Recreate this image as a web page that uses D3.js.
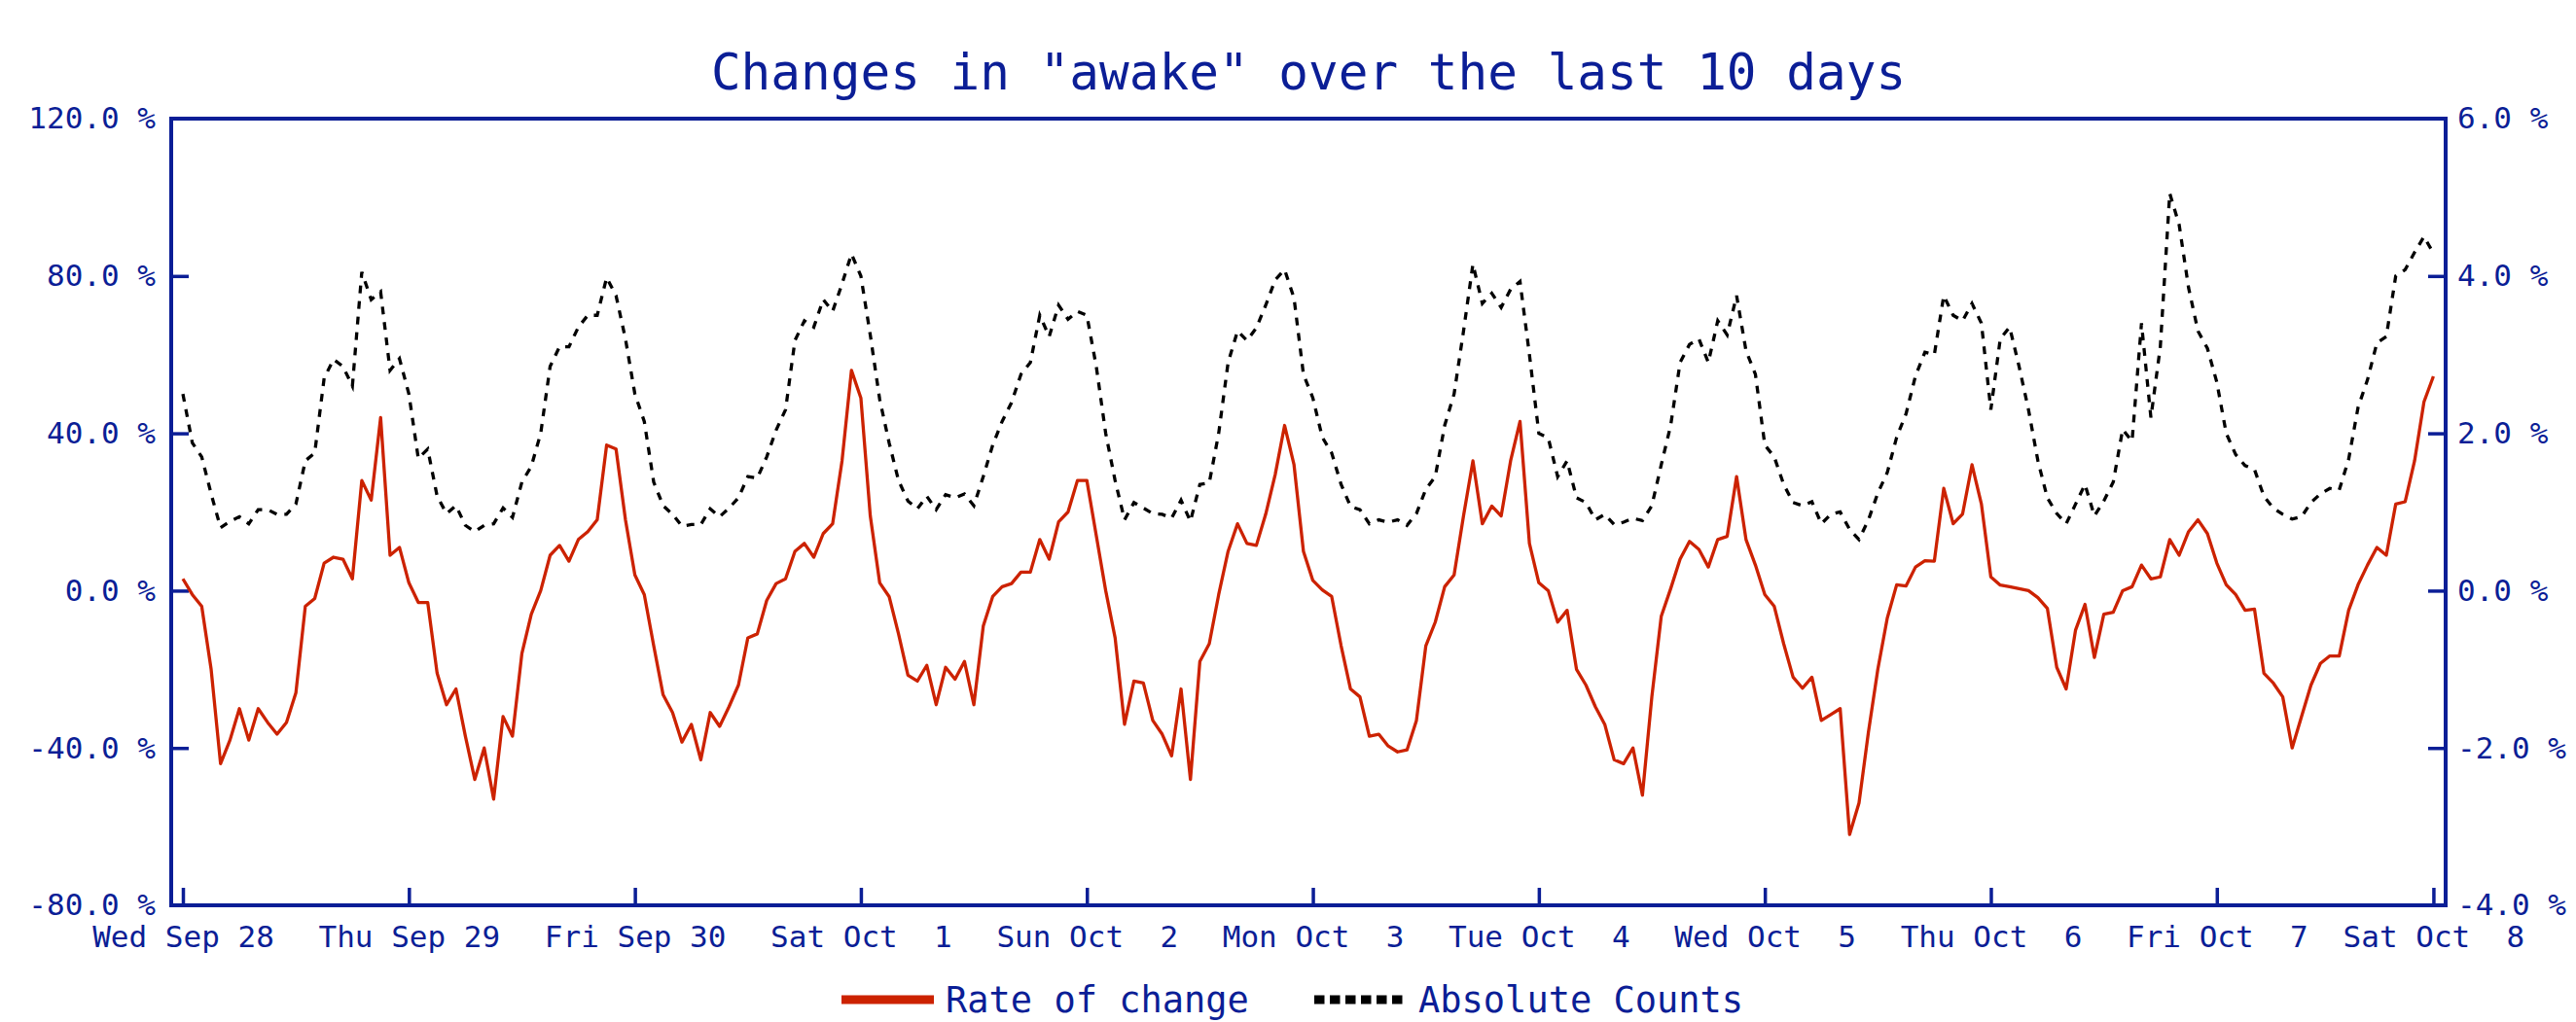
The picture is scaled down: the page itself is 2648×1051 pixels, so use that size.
<!DOCTYPE html>
<html>
<head>
<meta charset="utf-8">
<script src="https://cdn.jsdelivr.net/npm/d3@7"></script>
<style>
  body { margin: 0; background: #fff; }
  svg { display: block; }
  text { font-family: "DejaVu Sans Mono", monospace; fill: #0b1e96; }
</style>
</head>
<body>
<svg width="2648" height="1051"></svg>
<script>
// One sample per hour, hours counted from Wed Sep 28 00:00
// (the Fri Oct 7 day is only 23 hours long: clocks moved that night)
const hours = d3.range(0, 240)

// Rate of change, left axis (%)
const rate = [
  3, -1, -4, -20, -44, -38, -30, -38, -30, -33.5, -36.5, -33.5, -26, -4, -2, 7, 8.5, 8, 3, 28, 23, 44, 9, 11,
  2, -3, -3, -21, -29, -25, -37, -48, -40, -53, -32, -37, -16, -6, 0, 9, 11.5, 7.5, 13, 15, 18, 37, 36, 18,
  4, -1, -14, -26.5, -31, -38.5, -34, -43, -31, -34.5, -29.5, -24, -12, -11, -2.5, 1.8, 3, 10, 12, 8.5, 14.5, 17, 33, 56,
  49, 19, 2, -1.5, -11, -21.5, -23, -19, -29, -19.5, -22.5, -18, -29, -9, -1.5, 1, 1.8, 4.7, 4.7, 13, 8, 17.5, 20, 28,
  28, 14, 0, -12, -34, -23, -23.5, -33, -36.5, -42, -25, -48, -18, -13.5, -1, 10, 17, 12, 11.5, 19.5, 29.5, 42, 32, 10,
  2.6, 0.2, -1.5, -14, -25, -27, -37, -36.5, -39.5, -41, -40.5, -33, -14, -8, 1, 4, 19, 33, 17, 21.5, 19, 33, 43, 12,
  2, 0, -8, -5, -20, -24, -29.5, -34, -43, -44, -40, -52, -27, -6.5, 0.5, 8, 12.5, 10.5, 6, 13, 13.8, 29, 13, 6.5,
  -1, -4, -13.5, -22, -24.8, -22, -33, -31.5, -30, -62, -54, -36, -20, -7, 1.5, 1.2, 6, 7.6, 7.5, 26, 17, 19.5, 32, 22,
  3.5, 1.4, 1, 0.5, 0, -1.8, -4.5, -19.5, -25, -10, -3.5, -17, -6, -5.5, 0, 1, 6.5, 3, 3.5, 13, 9, 15, 18, 14.5,
  7, 1.5, -1, -5, -4.7, -21, -23.5, -27, -40, -32, -24, -18.5, -16.6, -16.6, -5, 1.5, 6.5, 11, 9, 22, 22.6, 33, 48, 54.5
]

// Absolute counts, right axis (%)
const counts = [
  2.50, 1.88, 1.70, 1.23, 0.80, 0.88, 0.94, 0.85, 1.03, 1.03, 0.97, 0.97, 1.10, 1.65, 1.75, 2.70, 2.94, 2.85, 2.60, 4.05, 3.70, 3.80, 2.80, 2.95,
  2.50, 1.68, 1.80, 1.20, 0.98, 1.08, 0.83, 0.75, 0.83, 0.85, 1.05, 0.93, 1.38, 1.58, 2.00, 2.85, 3.10, 3.10, 3.35, 3.50, 3.50, 3.98, 3.75, 3.20,
  2.50, 2.15, 1.38, 1.08, 0.97, 0.82, 0.84, 0.84, 1.04, 0.94, 1.05, 1.18, 1.45, 1.43, 1.70, 2.04, 2.30, 3.18, 3.43, 3.35, 3.70, 3.55, 3.90, 4.28,
  4.00, 3.25, 2.43, 1.88, 1.40, 1.14, 1.04, 1.20, 1.03, 1.22, 1.18, 1.23, 1.08, 1.45, 1.85, 2.15, 2.39, 2.75, 2.90, 3.50, 3.23, 3.63, 3.45, 3.55,
  3.50, 2.85, 2.00, 1.40, 0.90, 1.12, 1.05, 0.98, 0.97, 0.92, 1.15, 0.88, 1.35, 1.37, 2.00, 2.90, 3.30, 3.18, 3.34, 3.63, 3.95, 4.08, 3.72, 2.75,
  2.45, 1.95, 1.75, 1.35, 1.07, 1.03, 0.85, 0.90, 0.87, 0.90, 0.83, 0.98, 1.29, 1.45, 2.10, 2.50, 3.30, 4.15, 3.65, 3.78, 3.60, 3.83, 3.93, 3.00,
  2.00, 1.94, 1.45, 1.65, 1.18, 1.12, 0.90, 0.97, 0.84, 0.87, 0.92, 0.89, 1.08, 1.60, 2.10, 2.90, 3.13, 3.20, 2.90, 3.43, 3.25, 3.75, 3.05, 2.75,
  1.85, 1.70, 1.35, 1.12, 1.08, 1.13, 0.85, 0.97, 1.00, 0.78, 0.65, 0.90, 1.24, 1.50, 1.95, 2.25, 2.73, 3.03, 3.00, 3.75, 3.50, 3.43, 3.65, 3.40,
  2.30, 3.20, 3.35, 2.85, 2.30, 1.65, 1.18, 0.98, 0.85, 1.10, 1.35, 0.95, 1.14, 1.38, 2.05, 1.90, 3.40, 2.20, 3.10, 5.05, 4.65, 3.85, 3.30, 3.08,
  2.65, 2.00, 1.73, 1.59, 1.54, 1.20, 1.05, 0.97, 0.91, 0.94, 1.12, 1.23, 1.30, 1.28, 1.67, 2.33, 2.68, 3.15, 3.23, 4.00, 4.08, 4.30, 4.50, 4.29
]

// Day labels and the hour at which each day starts
const dayLabels = ['Wed Sep 28', 'Thu Sep 29', 'Fri Sep 30', 'Sat Oct  1', 'Sun Oct  2', 'Mon Oct  3',
  'Tue Oct  4', 'Wed Oct  5', 'Thu Oct  6', 'Fri Oct  7', 'Sat Oct  8']
const dayHours = [0, 24, 48, 72, 96, 120, 144, 168, 192, 216, 239]

const leftTicks = [-80, -40, 0, 40, 80, 120]
const rightTicks = [-4, -2, 0, 2, 4, 6]

const seriesNames = ['Rate of change', 'Absolute Counts']

const title = 'Changes in "awake" over the last 10 days'

// Layout
const blue = '#0b1e96'
const red = '#cc2200'
const plot = { left: 176, right: 2514, top: 122, bottom: 931 }

const svg = d3.select('svg')

const x = d3.scaleLinear()
  .domain([-1.24, 240.3])
  .range([plot.left, plot.right])

const yLeft = d3.scaleLinear()
  .domain([-80, 120])
  .range([plot.bottom, plot.top])

const yRight = d3.scaleLinear()
  .domain([-4, 6])
  .range([plot.bottom, plot.top])

// Title
svg.append('text')
  .attr('x', (plot.left + plot.right) / 2)
  .attr('y', 92)
  .attr('text-anchor', 'middle')
  .style('font-size', '51px')
  .text(title)

// Clip lines to the plot area
svg.append('clipPath')
  .attr('id', 'clip')
  .append('rect')
  .attr('x', plot.left)
  .attr('y', plot.top)
  .attr('width', plot.right - plot.left)
  .attr('height', plot.bottom - plot.top)

const fmt = d => d.toFixed(1) + ' %'

// Left axis
const leftAxis = svg.append('g')
  .attr('transform', `translate(${plot.left}, 0)`)
  .call(d3.axisLeft(yLeft)
    .tickValues(leftTicks)
    .tickSize(-18)
    .tickSizeOuter(0)
    .tickPadding(16)
    .tickFormat(fmt))

// Right axis
const rightAxis = svg.append('g')
  .attr('transform', `translate(${plot.right}, 0)`)
  .call(d3.axisRight(yRight)
    .tickValues(rightTicks)
    .tickSize(-18)
    .tickSizeOuter(0)
    .tickPadding(12)
    .tickFormat(fmt))

// Bottom axis
const bottomAxis = svg.append('g')
  .attr('transform', `translate(0, ${plot.bottom})`)
  .call(d3.axisBottom(x)
    .tickValues(dayHours)
    .tickSize(-18)
    .tickSizeOuter(0)
    .tickPadding(21)
    .tickFormat((d, i) => dayLabels[i]))

;[leftAxis, rightAxis, bottomAxis].forEach(axis => {
  axis.select('.domain').remove()
  axis.selectAll('.tick line')
    .attr('stroke', blue)
    .attr('stroke-width', 3.5)
  axis.selectAll('.tick text')
    .style('font-size', '31px')
    .style('white-space', 'pre')
    .attr('fill', blue)
})

// The top and bottom value labels sit on the frame, no tick mark there
leftAxis.selectAll('.tick line').filter(d => d === 120 || d === -80).remove()
rightAxis.selectAll('.tick line').filter(d => d === 6 || d === -4).remove()

// Lines
const rateLine = d3.line()
  .x((d, i) => x(hours[i]))
  .y(d => yLeft(d))

const countLine = d3.line()
  .x((d, i) => x(hours[i]))
  .y(d => yRight(d))

const lines = svg.append('g').attr('clip-path', 'url(#clip)')

lines.append('path')
  .datum(rate)
  .attr('fill', 'none')
  .attr('stroke', red)
  .attr('stroke-width', 3.3)
  .attr('stroke-linejoin', 'round')
  .attr('d', rateLine)

lines.append('path')
  .datum(counts)
  .attr('fill', 'none')
  .attr('stroke', '#000')
  .attr('stroke-width', 3.3)
  .attr('stroke-dasharray', '8,8')
  .attr('d', countLine)

// Frame
svg.append('rect')
  .attr('x', plot.left)
  .attr('y', plot.top)
  .attr('width', plot.right - plot.left)
  .attr('height', plot.bottom - plot.top)
  .attr('fill', 'none')
  .attr('stroke', blue)
  .attr('stroke-width', 4)

// Legend
const legend = svg.append('g')

legend.append('line')
  .attr('x1', 865).attr('x2', 960)
  .attr('y1', 1028).attr('y2', 1028)
  .attr('stroke', red)
  .attr('stroke-width', 9)

legend.append('text')
  .attr('x', 972)
  .attr('y', 1041)
  .style('font-size', '37px')
  .text(seriesNames[0])

legend.append('line')
  .attr('x1', 1351).attr('x2', 1446)
  .attr('y1', 1028).attr('y2', 1028)
  .attr('stroke', '#000')
  .attr('stroke-width', 9)
  .attr('stroke-dasharray', '10.5,5.5')

legend.append('text')
  .attr('x', 1458)
  .attr('y', 1041)
  .style('font-size', '37px')
  .text(seriesNames[1])
</script>
</body>
</html>
